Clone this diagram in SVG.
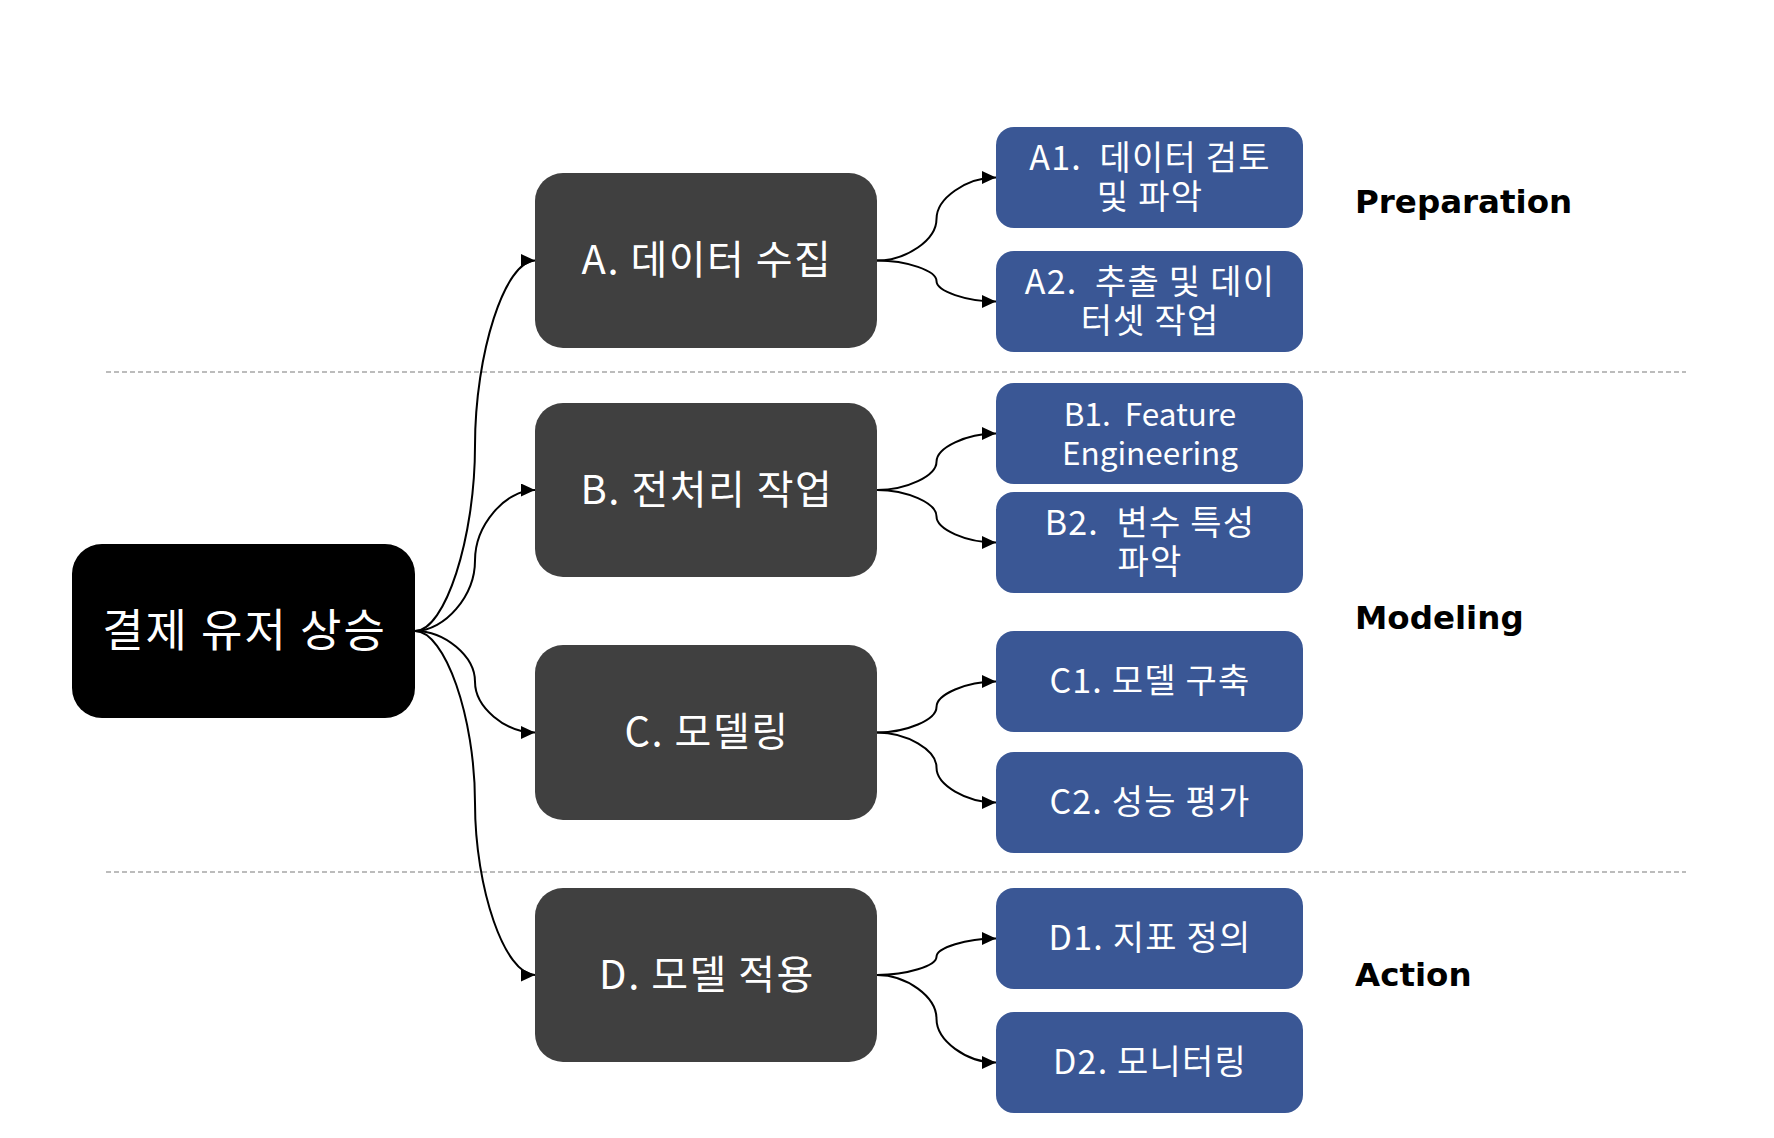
<svg xmlns="http://www.w3.org/2000/svg" width="1774" height="1138" viewBox="0 0 1774 1138">
<defs>
<marker id="arr" markerUnits="userSpaceOnUse" markerWidth="15" markerHeight="13" refX="14" refY="6.5" orient="auto">
<path d="M0,0 L14,6.5 L0,13 z" fill="#000"/>
</marker>
<style>
.root{fill:#000000}
.dark{fill:#404040}
.blue{fill:#3A5795}
.t{font-family:"Noto Sans CJK KR","Noto Sans",sans-serif;fill:#fff;text-anchor:middle;white-space:pre}
.tr{font-size:45px;letter-spacing:2px}
.td{font-size:40px;letter-spacing:1.5px}
.tb{font-size:34px;letter-spacing:1.2px}
.tl{font-size:31.5px;letter-spacing:0}
.lab{font-family:"DejaVu Sans",Verdana,sans-serif;font-weight:bold;font-size:32.5px;fill:#000}
.sep{stroke:#A6A6A6;stroke-width:1.6;stroke-dasharray:5 3;fill:none}
.con path{fill:none;stroke:#000;stroke-width:2;marker-end:url(#arr)}
</style>
</defs>
<rect width="1774" height="1138" fill="#fff"/>
<g id="separators">
<line class="sep" x1="106" y1="372" x2="1686" y2="372"/>
<line class="sep" x1="106" y1="872" x2="1686" y2="872"/>
</g>
<g id="connectors" class="con">
<path d="M415 631 C445 631 475 538.375 475 445.75 C475 353.125 505 260.5 535 260.5"/>
<path d="M415 631 C445 631 475 595.75 475 560.5 C475 525.25 505 490 535 490"/>
<path d="M415 631 C445 631 475 656.375 475 681.75 C475 707.125 505 732.5 535 732.5"/>
<path d="M415 631 C445 631 475 717 475 803 C475 889 505 975 535 975"/>
<path d="M877 260.5 C906.75 260.5 936.5 239.75 936.5 219 C936.5 198.25 966.25 177.5 996 177.5"/>
<path d="M877 260.5 C906.75 260.5 936.5 270.75 936.5 281 C936.5 291.25 966.25 301.5 996 301.5"/>
<path d="M877 490 C906.75 490 936.5 475.875 936.5 461.75 C936.5 447.625 966.25 433.5 996 433.5"/>
<path d="M877 490 C906.75 490 936.5 503.125 936.5 516.25 C936.5 529.375 966.25 542.5 996 542.5"/>
<path d="M877 732.5 C906.75 732.5 936.5 719.75 936.5 707 C936.5 694.25 966.25 681.5 996 681.5"/>
<path d="M877 732.5 C906.75 732.5 936.5 750 936.5 767.5 C936.5 785 966.25 802.5 996 802.5"/>
<path d="M877 975 C906.75 975 936.5 965.875 936.5 956.75 C936.5 947.625 966.25 938.5 996 938.5"/>
<path d="M877 975 C906.75 975 936.5 996.875 936.5 1018.75 C936.5 1040.625 966.25 1062.5 996 1062.5"/>
</g>
<g id="root">
<rect class="root" x="72" y="544" width="343" height="174" rx="30"/>
<text class="t tr" x="244.5" y="647">결제 유저 상승</text>
</g>
<g id="A">
<rect class="dark" x="535" y="173" width="342" height="175" rx="28"/>
<text class="t td" x="707" y="274">A. 데이터 수집</text>
</g>
<g id="B">
<rect class="dark" x="535" y="403" width="342" height="174" rx="28"/>
<text class="t td" x="707" y="504">B. 전처리 작업</text>
</g>
<g id="C">
<rect class="dark" x="535" y="645" width="342" height="175" rx="28"/>
<text class="t td" x="707" y="746">C. 모델링</text>
</g>
<g id="D">
<rect class="dark" x="535" y="888" width="342" height="174" rx="28"/>
<text class="t td" x="707" y="989">D. 모델 적용</text>
</g>
<g id="A1">
<rect class="blue" x="996" y="127" width="307" height="101" rx="18"/>
<text class="t tb" x="1150" y="170">A1.  데이터 검토</text>
<text class="t tb" x="1150" y="209">및 파악</text>
</g>
<g id="A2">
<rect class="blue" x="996" y="251" width="307" height="101" rx="18"/>
<text class="t tb" x="1150" y="294">A2.  추출 및 데이</text>
<text class="t tb" x="1150" y="333">터셋 작업</text>
</g>
<g id="B1">
<rect class="blue" x="996" y="383" width="307" height="101" rx="18"/>
<text class="t tl" x="1150" y="426">B1.  Feature</text>
<text class="t tl" x="1150" y="465">Engineering</text>
</g>
<g id="B2">
<rect class="blue" x="996" y="492" width="307" height="101" rx="18"/>
<text class="t tb" x="1150" y="535">B2.  변수 특성</text>
<text class="t tb" x="1150" y="574">파악</text>
</g>
<g id="C1">
<rect class="blue" x="996" y="631" width="307" height="101" rx="18"/>
<text class="t tb" x="1150" y="693">C1. 모델 구축</text>
</g>
<g id="C2">
<rect class="blue" x="996" y="752" width="307" height="101" rx="18"/>
<text class="t tb" x="1150" y="814">C2. 성능 평가</text>
</g>
<g id="D1">
<rect class="blue" x="996" y="888" width="307" height="101" rx="18"/>
<text class="t tb" x="1150" y="950">D1. 지표 정의</text>
</g>
<g id="D2">
<rect class="blue" x="996" y="1012" width="307" height="101" rx="18"/>
<text class="t tb" x="1150" y="1074">D2. 모니터링</text>
</g>
<g id="labels">
<text class="lab" x="1355" y="213">Preparation</text>
<text class="lab" x="1355" y="629">Modeling</text>
<text class="lab" x="1355" y="986">Action</text>
</g>
</svg>
